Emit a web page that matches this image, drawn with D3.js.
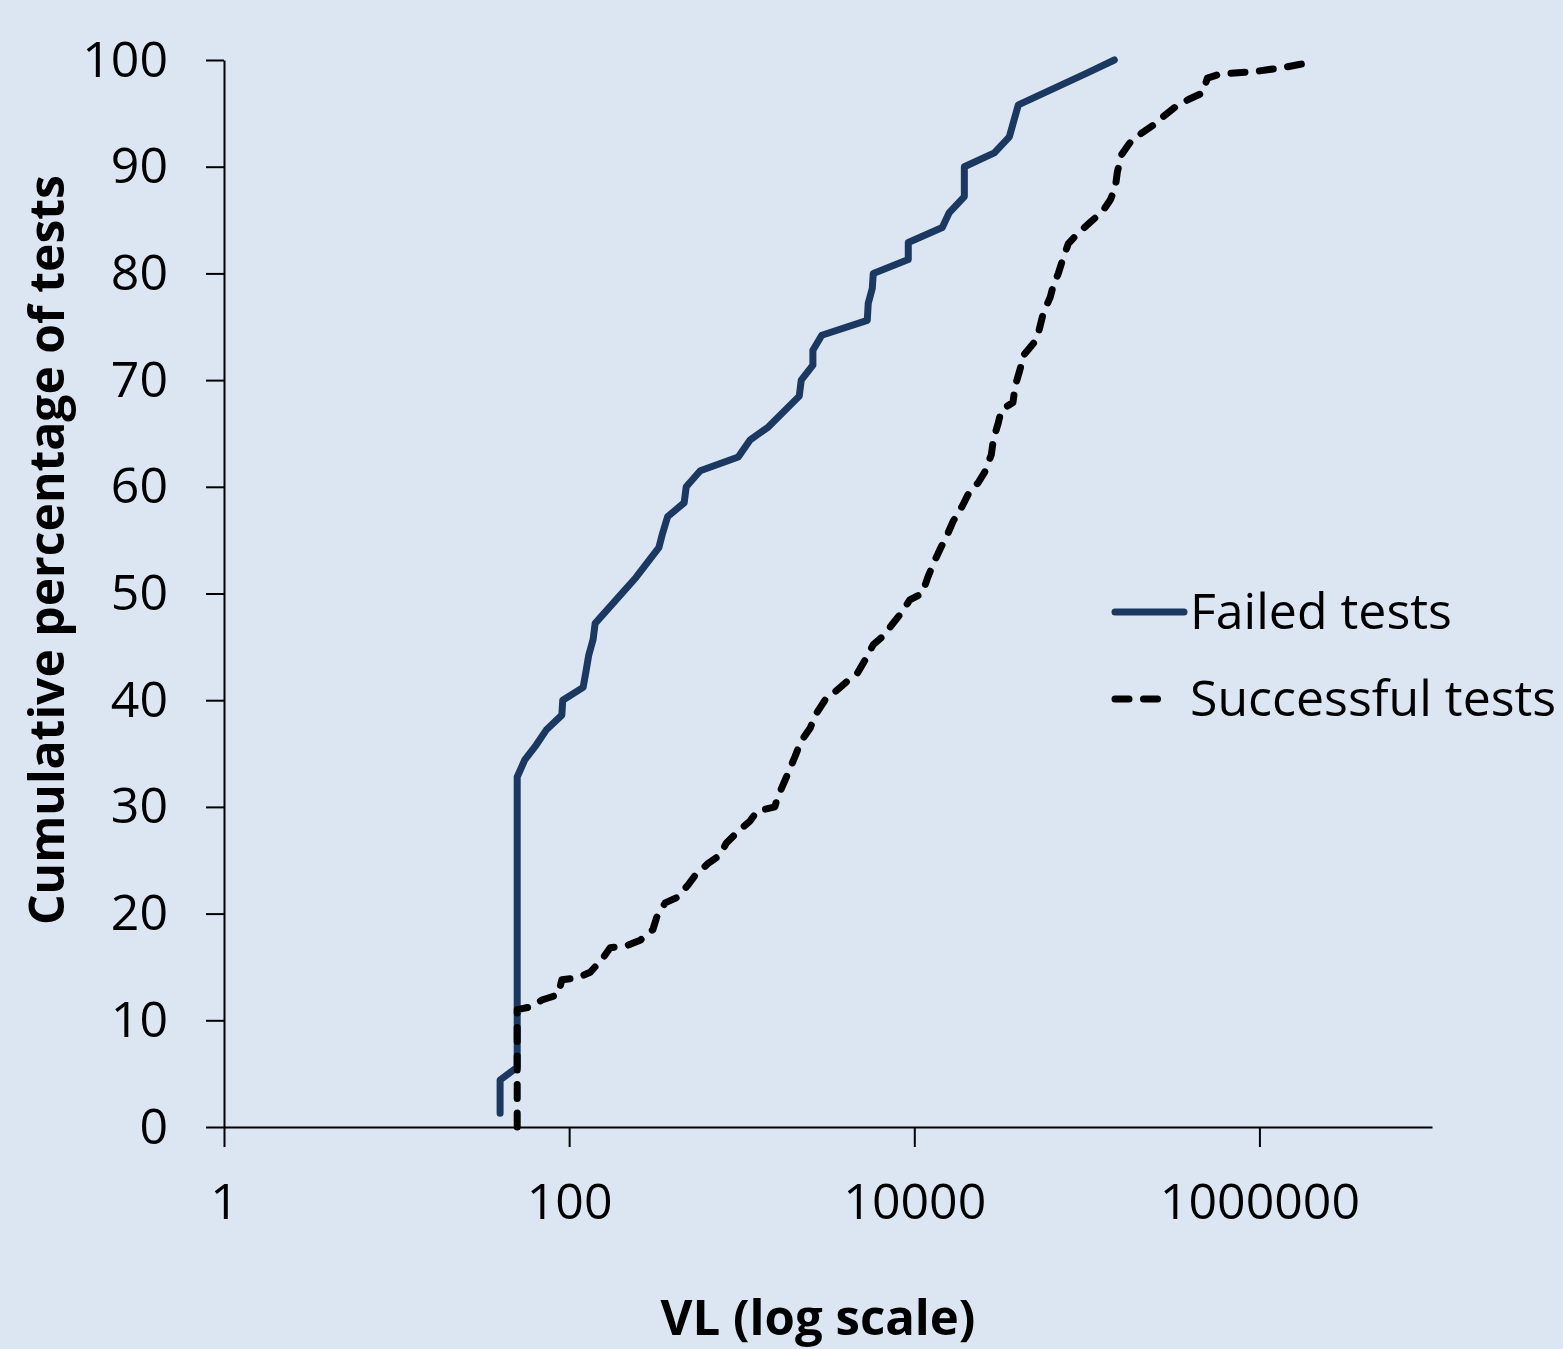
<!DOCTYPE html>
<html>
<head>
<meta charset="utf-8">
<script src="https://cdn.jsdelivr.net/npm/d3@7"></script>
<style>
  html, body { margin: 0; padding: 0; background: #DCE6F2; }
  svg { display: block; }
</style>
</head>
<body>
<svg id="chart" width="1563" height="1349"></svg>
<script>
// ---- data ----
const failedVL  = [39.8, 39.8, 50, 50, 55.3, 64.4, 73.6, 90.7, 91.8, 120.5, 125.5, 129.8, 137.7, 141.5, 199, 244, 331, 346, 372, 464, 477, 575, 955, 1120, 1425, 2155, 2213, 2585, 2585, 2910, 5340, 5410, 5710, 5785, 9230, 9230, 14530, 15950, 19500, 19500, 29100, 35550, 40100, 100700, 144300];
const failedPct = [1.3, 4.4, 5.6, 32.8, 34.4, 35.8, 37.2, 38.6, 40.0, 41.2, 42.8, 44.2, 45.7, 47.2, 49.9, 51.5, 54.3, 55.5, 57.2, 58.5, 60.0, 61.5, 62.8, 64.4, 65.6, 68.5, 70.0, 71.4, 72.8, 74.2, 75.6, 77.2, 78.6, 80.0, 81.3, 82.9, 84.3, 85.7, 87.2, 90.0, 91.3, 92.8, 95.8, 98.8, 100];

const successVL  = [50, 50, 59.4, 69.5, 86.4, 90.7, 112.8, 132.3, 154.8, 172.9, 216, 258, 305.6, 322.4, 360, 421, 490, 538, 639, 751, 813, 938, 1120, 1227, 1556, 1606, 1860, 2034, 2198, 2495, 2668, 3090, 3483, 4035, 4672, 5198, 5785, 6700, 7357, 8519, 9417, 11130, 11900, 12890, 14150, 15430, 16830, 18980, 20840, 23500, 25630, 27950, 28710, 30690, 31940, 37290, 38500, 41170, 42280, 49360, 52340, 55950, 61430, 63940, 68350, 73090, 78140, 89280, 104800, 123000, 136900, 146300, 150200, 158500, 178700, 209800, 242900, 277600, 325900, 387600, 467200, 499400, 594000, 923000, 1377000, 1729000, 2112000];
const successPct = [0, 11.0, 11.25, 11.9, 12.4, 13.8, 14.0, 14.5, 15.7, 16.8, 17.0, 17.5, 18.5, 19.7, 21.0, 21.5, 22.7, 23.6, 24.7, 25.5, 26.6, 27.6, 28.7, 29.6, 30.0, 30.8, 33.2, 34.7, 36.1, 37.4, 38.6, 40.2, 40.8, 41.7, 42.5, 43.8, 45.2, 46.1, 47.0, 48.3, 49.4, 50.0, 51.4, 52.8, 54.2, 55.4, 56.8, 58.2, 59.5, 60.4, 61.4, 63.0, 64.4, 66.0, 67.2, 67.9, 69.5, 71.1, 72.2, 73.5, 74.4, 76.3, 77.8, 78.9, 80.0, 81.5, 82.8, 83.8, 84.8, 85.8, 86.9, 88.1, 89.5, 91.1, 92.3, 93.2, 93.9, 94.7, 95.6, 96.3, 96.9, 98.3, 98.7, 98.9, 99.3, 99.6, 99.8];

const xTicks = [1, 100, 10000, 1000000];
const yTicks = [0, 10, 20, 30, 40, 50, 60, 70, 80, 90, 100];
const seriesNames = ["Failed tests", "Successful tests"];
const xTitle = "VL (log scale)";
const yTitle = "Cumulative percentage of tests";

// ---- chart ----
const svg = d3.select("#chart");
const x = d3.scaleLog().domain([1, 1e7]).range([224, 1432]);
const y = d3.scaleLinear().domain([0, 100]).range([1127, 60]);

const font = "'Open Sans', sans-serif";

// axes
const yAxis = svg.append("g").attr("transform", "translate(224,0)")
  .call(d3.axisLeft(y).tickValues(yTicks).tickSize(18).tickSizeOuter(0).tickPadding(38));
const xAxis = svg.append("g").attr("transform", "translate(0,1127)")
  .call(d3.axisBottom(x).tickValues(xTicks).tickFormat(d3.format("d")).tickSize(20).tickSizeOuter(0).tickPadding(36));

[yAxis, xAxis].forEach(g => {
  g.select(".domain").attr("stroke", "#000").attr("stroke-width", 2);
  g.selectAll(".tick line").attr("stroke", "#000").attr("stroke-width", 2);
  g.selectAll(".tick text").attr("font-family", font).attr("font-size", 50).attr("fill", "#000");
});

// lines
const line = d3.line().x(d => x(d[0])).y(d => y(d[1]));
const failed = failedVL.map((v, i) => [v, failedPct[i]]);
const success = successVL.map((v, i) => [v, successPct[i]]);

svg.append("path").datum(failed)
  .attr("d", line).attr("fill", "none")
  .attr("stroke", "#1B3960").attr("stroke-width", 7)
  .attr("stroke-linejoin", "round").attr("stroke-linecap", "round");

svg.append("path").datum(success)
  .attr("d", line).attr("fill", "none")
  .attr("stroke", "#000").attr("stroke-width", 7)
  .attr("stroke-dasharray", "14 14.5")
  .attr("stroke-linejoin", "round").attr("stroke-linecap", "round");

// legend
svg.append("line").attr("x1", 1115).attr("x2", 1184).attr("y1", 612).attr("y2", 612)
  .attr("stroke", "#1B3960").attr("stroke-width", 7).attr("stroke-linecap", "round");
svg.append("line").attr("x1", 1115).attr("x2", 1172).attr("y1", 699).attr("y2", 699)
  .attr("stroke", "#000").attr("stroke-width", 7).attr("stroke-dasharray", "14 14.5").attr("stroke-linecap", "round");
svg.append("text").attr("x", 1190).attr("y", 629).text(seriesNames[0])
  .attr("font-family", font).attr("font-size", 50).attr("fill", "#000");
svg.append("text").attr("x", 1190).attr("y", 716).text(seriesNames[1])
  .attr("font-family", font).attr("font-size", 50).attr("fill", "#000");

// titles
svg.append("text").attr("x", 818).attr("y", 1335).attr("text-anchor", "middle")
  .attr("font-family", font).attr("font-weight", "bold").attr("font-size", 48)
  .attr("textLength", 315).attr("lengthAdjust", "spacingAndGlyphs")
  .text(xTitle);
svg.append("text").attr("transform", "translate(64,550) rotate(-90)")
  .attr("text-anchor", "middle")
  .attr("font-family", font).attr("font-weight", "bold").attr("font-size", 48)
  .attr("textLength", 750).attr("lengthAdjust", "spacingAndGlyphs")
  .text(yTitle);
</script>
</body>
</html>
